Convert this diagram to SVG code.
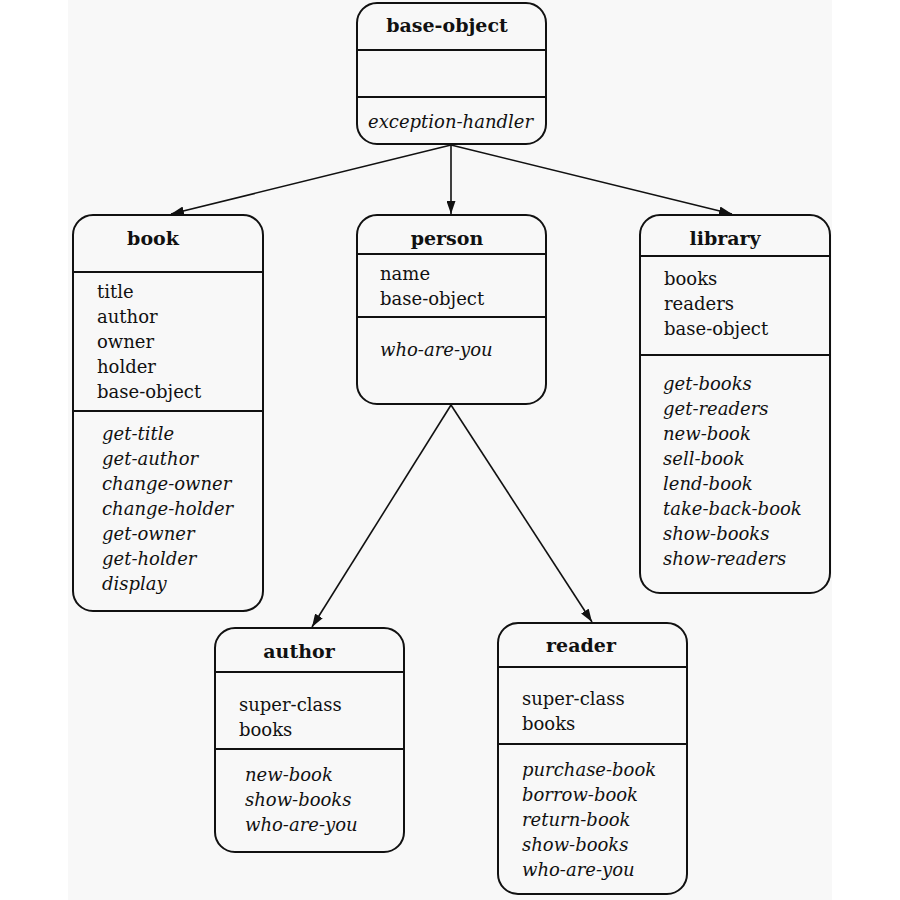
<svg xmlns="http://www.w3.org/2000/svg" width="900" height="900" viewBox="0 0 900 900">
<style>
.bg{fill:#f8f8f8}
.box{fill:#f8f8f8;stroke:#111;stroke-width:2}
.div{stroke:#111;stroke-width:2}
text{font-family:"DejaVu Serif","Liberation Serif",serif;font-size:18px;fill:#111}
.t{font-weight:bold;font-size:19px}
.m{font-style:italic}
.edge{stroke:#111;stroke-width:1.6;fill:none;marker-end:url(#ah)}
</style>
<defs>
<marker id="ah" viewBox="0 0 13 9" refX="13" refY="4.5" markerWidth="13" markerHeight="9" markerUnits="userSpaceOnUse" orient="auto">
<path d="M0,0 L13,4.5 L0,9 Z" fill="#111"/>
</marker>
</defs>
<rect x="0" y="0" width="900" height="900" fill="#fff"/>
<rect class="bg" x="68" y="0" width="764" height="900"/>
<g id="connectors">
<line class="edge" x1="451" y1="145" x2="171" y2="214"/>
<line class="edge" x1="451" y1="145" x2="451" y2="214"/>
<line class="edge" x1="451" y1="145" x2="732" y2="214"/>
<line class="edge" x1="451" y1="405" x2="312" y2="627"/>
<line class="edge" x1="451" y1="405" x2="592" y2="622"/>
</g>
<g id="base-object">
<rect class="box" x="357" y="3" width="189" height="141" rx="20"/>
<line class="div" x1="357" y1="50" x2="546" y2="50"/>
<line class="div" x1="357" y1="97" x2="546" y2="97"/>
<text class="t" x="447" y="32" text-anchor="middle">base-object</text>
<text class="m" x="368" y="128">exception-handler</text>
</g>
<g id="book">
<rect class="box" x="73" y="215" width="190" height="396" rx="20"/>
<line class="div" x1="73" y1="272" x2="263" y2="272"/>
<line class="div" x1="73" y1="411" x2="263" y2="411"/>
<text class="t" x="153" y="245" text-anchor="middle">book</text>
<text x="97" y="298">title</text>
<text x="97" y="323">author</text>
<text x="97" y="348">owner</text>
<text x="97" y="373">holder</text>
<text x="97" y="398">base-object</text>
<text class="m" x="102" y="440">get-title</text>
<text class="m" x="102" y="465">get-author</text>
<text class="m" x="102" y="490">change-owner</text>
<text class="m" x="102" y="515">change-holder</text>
<text class="m" x="102" y="540">get-owner</text>
<text class="m" x="102" y="565">get-holder</text>
<text class="m" x="102" y="590">display</text>
</g>
<g id="person">
<rect class="box" x="357" y="215" width="189" height="189" rx="20"/>
<line class="div" x1="357" y1="254" x2="546" y2="254"/>
<line class="div" x1="357" y1="317" x2="546" y2="317"/>
<text class="t" x="447" y="245" text-anchor="middle">person</text>
<text x="380" y="280">name</text>
<text x="380" y="305">base-object</text>
<text class="m" x="380" y="356">who-are-you</text>
</g>
<g id="library">
<rect class="box" x="640" y="215" width="190" height="378" rx="20"/>
<line class="div" x1="640" y1="256" x2="830" y2="256"/>
<line class="div" x1="640" y1="355" x2="830" y2="355"/>
<text class="t" x="725" y="245" text-anchor="middle">library</text>
<text x="664" y="285">books</text>
<text x="664" y="310">readers</text>
<text x="664" y="335">base-object</text>
<text class="m" x="663" y="390">get-books</text>
<text class="m" x="663" y="415">get-readers</text>
<text class="m" x="663" y="440">new-book</text>
<text class="m" x="663" y="465">sell-book</text>
<text class="m" x="663" y="490">lend-book</text>
<text class="m" x="663" y="515">take-back-book</text>
<text class="m" x="663" y="540">show-books</text>
<text class="m" x="663" y="565">show-readers</text>
</g>
<g id="author">
<rect class="box" x="215" y="628" width="189" height="224" rx="20"/>
<line class="div" x1="215" y1="672" x2="404" y2="672"/>
<line class="div" x1="215" y1="749" x2="404" y2="749"/>
<text class="t" x="299" y="658" text-anchor="middle">author</text>
<text x="239" y="711">super-class</text>
<text x="239" y="736">books</text>
<text class="m" x="245" y="781">new-book</text>
<text class="m" x="245" y="806">show-books</text>
<text class="m" x="245" y="831">who-are-you</text>
</g>
<g id="reader">
<rect class="box" x="498" y="623" width="189" height="271" rx="20"/>
<line class="div" x1="498" y1="667" x2="687" y2="667"/>
<line class="div" x1="498" y1="744" x2="687" y2="744"/>
<text class="t" x="581" y="652" text-anchor="middle">reader</text>
<text x="522" y="705">super-class</text>
<text x="522" y="730">books</text>
<text class="m" x="522" y="776">purchase-book</text>
<text class="m" x="522" y="801">borrow-book</text>
<text class="m" x="522" y="826">return-book</text>
<text class="m" x="522" y="851">show-books</text>
<text class="m" x="522" y="876">who-are-you</text>
</g>
</svg>
